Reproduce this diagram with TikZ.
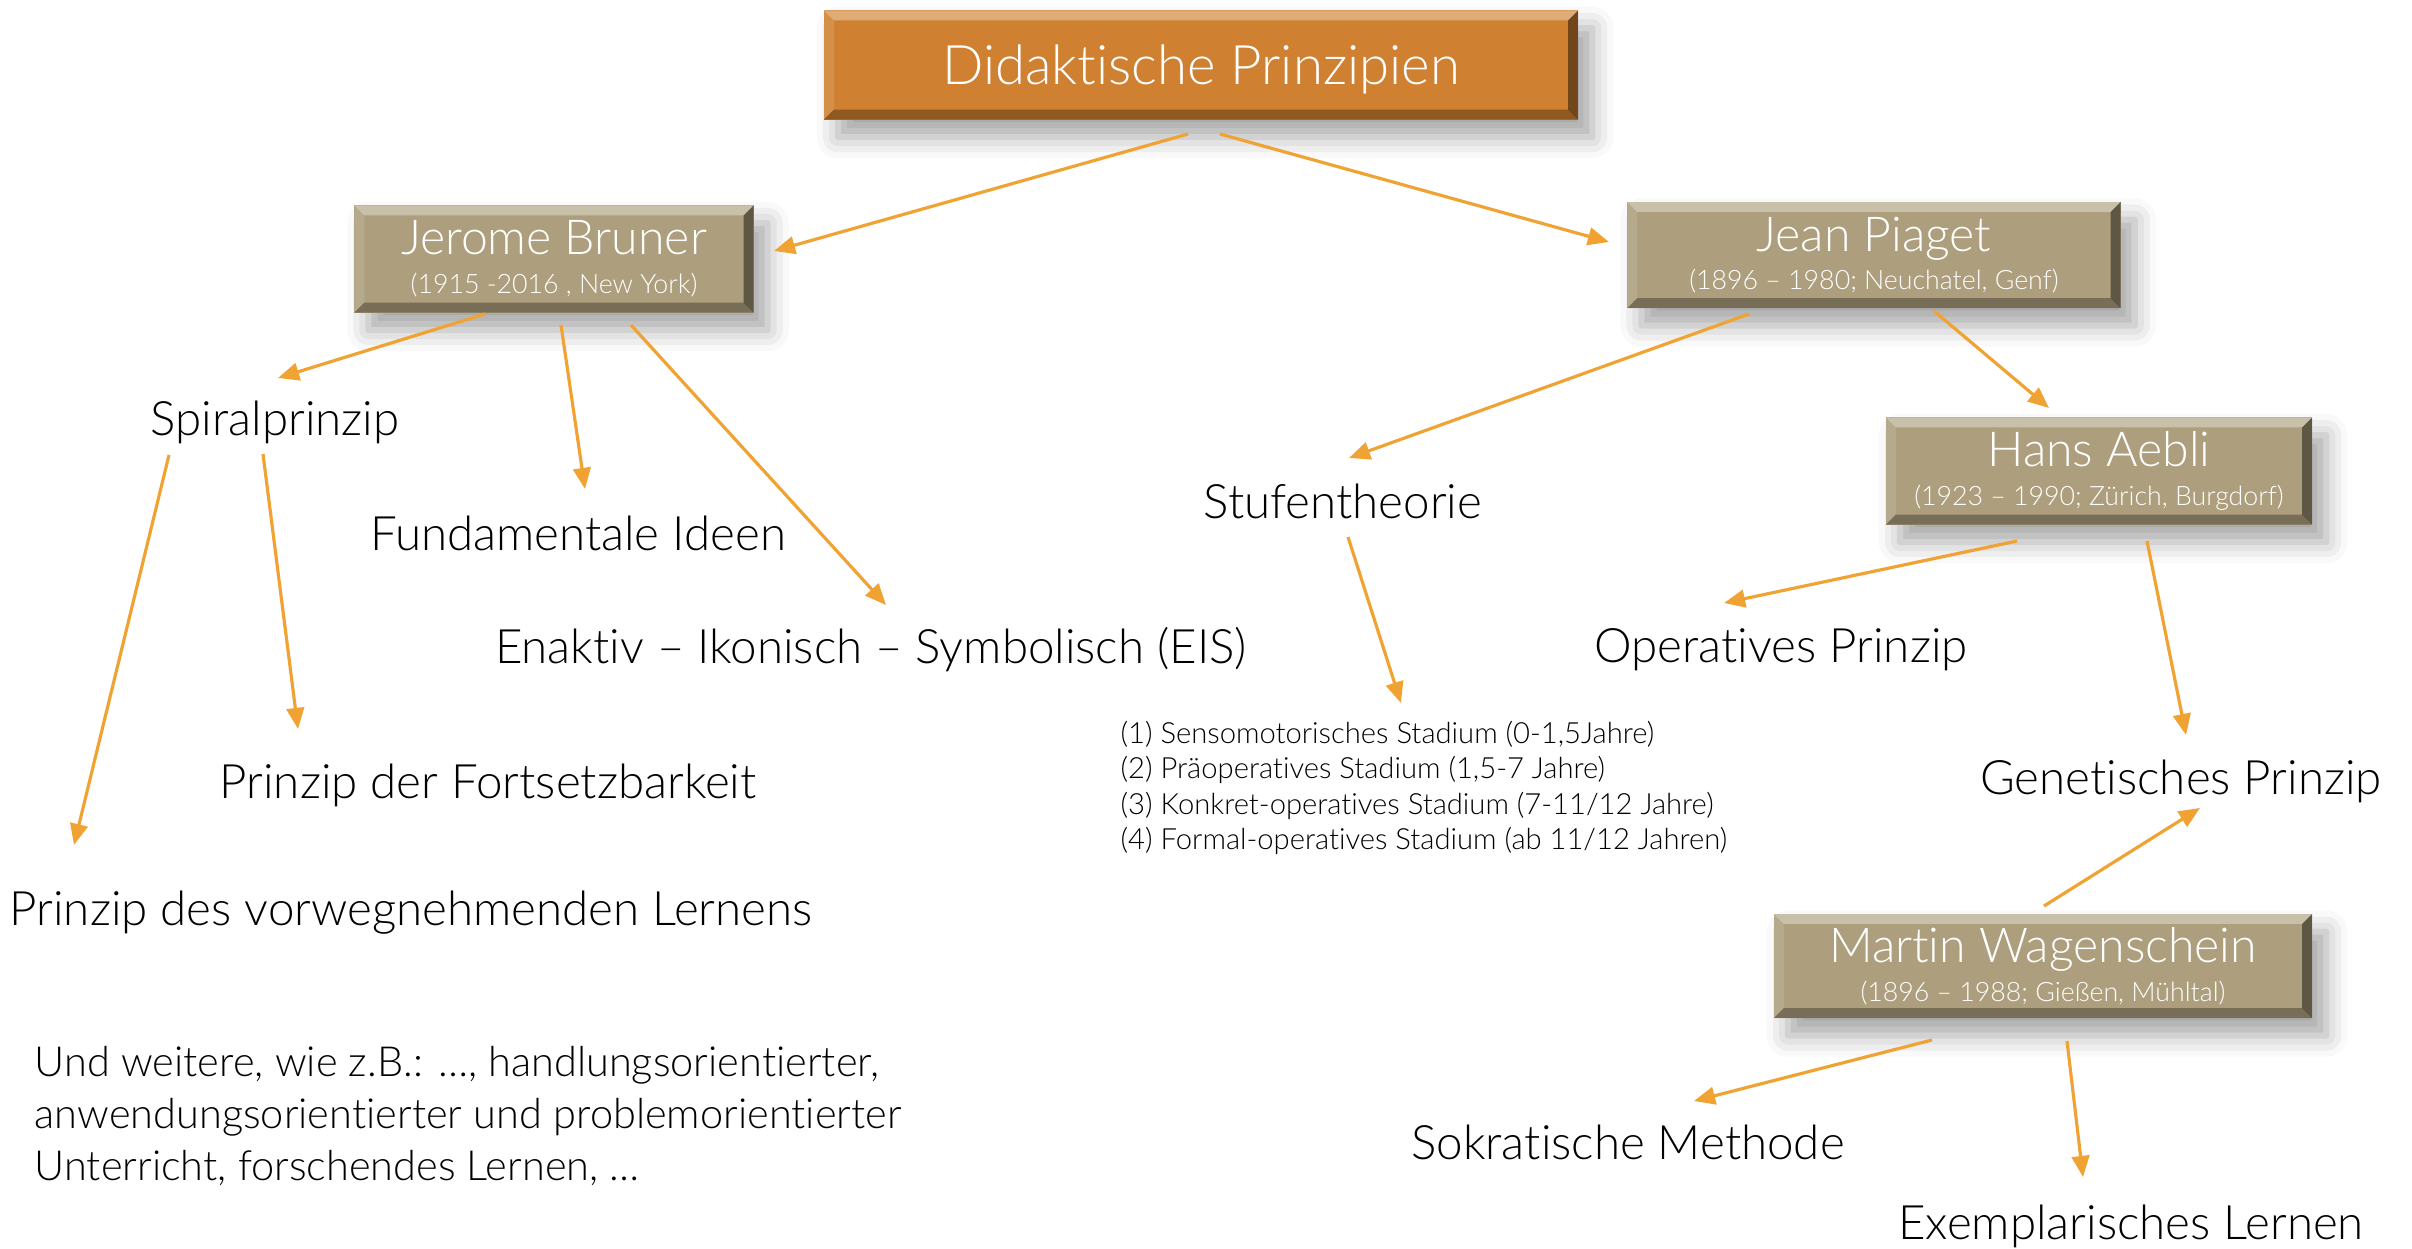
\documentclass[tikz,border=0pt]{standalone}
\usepackage{fontspec}
\setmainfont{Lato}[UprightFont={* Light},Ligatures=NoCommon]
\usetikzlibrary{arrows.meta,calc,shadows.blur}
\definecolor{prinzipOrange}{RGB}{207,128,48}
\definecolor{personBrown}{RGB}{173,159,125}
\definecolor{arrowOrange}{RGB}{240,162,50}

\tikzset{
  bevel/.style={path picture={
    \path (path picture bounding box.north west) coordinate (bvnw)
          (path picture bounding box.north east) coordinate (bvne)
          (path picture bounding box.south west) coordinate (bvsw)
          (path picture bounding box.south east) coordinate (bvse);
    \fill[white,opacity=0.35] (bvnw) -- (bvne) -- ([shift={(-10,10)}]bvne) -- ([shift={(10,10)}]bvnw) -- cycle;
    \fill[black,opacity=0.45] (bvse) -- (bvne) -- ([shift={(-10,10)}]bvne) -- ([shift={(-10,-10)}]bvse) -- cycle;
    \fill[black,opacity=0.3] (bvsw) -- (bvse) -- ([shift={(-10,-10)}]bvse) -- ([shift={(10,-10)}]bvsw) -- cycle;
    \fill[white,opacity=0.12] (bvnw) -- (bvsw) -- ([shift={(10,-10)}]bvsw) -- ([shift={(10,10)}]bvnw) -- cycle;
  }},
  boxshadow/.style={blur shadow={shadow xshift=4pt,shadow yshift=-5pt,shadow blur radius=6pt,shadow opacity=35}},
  topbox/.style={fill=prinzipOrange,text=white,bevel,boxshadow,inner sep=0pt,font=\fontsize{15.5}{18}\selectfont},
  personbox/.style={fill=personBrown,text=white,bevel,boxshadow,inner sep=0pt,align=center},
  label/.style={inner sep=0pt,font=\fontsize{13.5}{16}\selectfont},
  arr/.style={-{Triangle[length=6pt,width=5pt]},arrowOrange,line width=0.9pt}
}
\newcommand{\pname}[1]{{\fontsize{13.7}{16}\selectfont #1}}
\newcommand{\pdates}[1]{{\fontsize{7.6}{9}\selectfont #1}}

\begin{document}
\begin{tikzpicture}[x=0.01cm,y=-0.01cm]
    \useasboundingbox (0,0) rectangle (2412,1249);

    % Boxes
    \node[topbox,minimum width=7.54cm,minimum height=1.09cm] (didaktik) at (1201,65) {\raisebox{-1.3pt}[\height][\depth]{Didaktische Prinzipien}};

    \node[personbox,minimum width=3.99cm,minimum height=1.07cm] (bruner) at (554,259) {\pname{Jerome Bruner}\\[-1pt]\pdates{(1915 -2016 , New York)}};
    \node[personbox,minimum width=4.93cm,minimum height=1.06cm] (piaget) at (1874,255) {\pname{Jean Piaget}\\[-1pt]\pdates{(1896 -- 1980; Neuchatel, Genf)}};
    \node[personbox,minimum width=4.26cm,minimum height=1.07cm] (aebli) at (2099,471) {\pname{Hans Aebli}\\[-1pt]\pdates{(1923 -- 1990; Zürich, Burgdorf)}};
    \node[personbox,minimum width=5.38cm,minimum height=1.04cm] (wagen) at (2043,966) {\pname{Martin Wagenschein}\\[-1pt]\pdates{(1896 -- 1988; Gießen, Mühltal)}};

    % Prinzipien
    \node[label] (spiral) at (275,422) {Spiralprinzip};
    \node[label] (fund) at (578,533) {Fundamentale Ideen};
    \node[label] (eis) at (871,650) {Enaktiv -- Ikonisch -- Symbolisch (EIS)};
    \node[label] (forts) at (488,785) {Prinzip der Fortsetzbarkeit};
    \node[label] (vorweg) at (411,913) {Prinzip des vorwegnehmenden Lernens};
    \node[inner sep=0pt,anchor=west,align=left,font=\fontsize{11.8}{14.7}\selectfont] (weitere) at (34,1116) {Und weitere, wie z.B.: \dots, handlungsorientierter,\\anwendungsorientierter und problemorientierter\\Unterricht, forschendes Lernen, \dots};

    \node[label] (stufen) at (1343,501) {Stufentheorie};
    \node[inner sep=0pt,anchor=west,align=left,font=\fontsize{8.3}{10}\selectfont] (stadien) at (1120,788) {(1) Sensomotorisches Stadium (0-1,5Jahre)\\(2) Präoperatives Stadium (1,5-7 Jahre)\\(3) Konkret-operatives Stadium (7-11/12 Jahre)\\(4) Formal-operatives Stadium (ab 11/12 Jahren)};
    \node[label] (operativ) at (1781,650) {Operatives Prinzip};
    \node[label] (genet) at (2181,781) {Genetisches Prinzip};
    \node[label] (sokrat) at (1628,1142) {Sokratische Methode};
    \node[label] (exempl) at (2131,1226) {Exemplarisches Lernen};

    % Pfeile
    \draw[arr] ($(didaktik)+(-13,69)$) -- ($(bruner)+(220,-8)$);
    \draw[arr] ($(didaktik)+(19,69)$) -- ($(piaget)+(-265,-13)$);
    \draw[arr] ($(bruner)+(-69,55)$) -- ($(spiral)+(3,-44)$);
    \draw[arr] ($(bruner)+(7,66)$) -- ($(fund)+(7,-44)$);
    \draw[arr] ($(bruner)+(77,66)$) -- ($(eis)+(15,-45)$);
    \draw[arr] ($(spiral)+(-12,32)$) -- ($(forts)+(-190,-56)$);
    \draw[arr] ($(spiral)+(-106,33)$) -- ($(vorweg)+(-337,-68)$);
    \draw[arr] ($(piaget)+(-125,59)$) -- ($(stufen)+(6,-43)$);
    \draw[arr] ($(piaget)+(60,56)$) -- ($(aebli)+(-50,-63)$);
    \draw[arr] ($(stufen)+(5,36)$) -- ($(stadien)+(-23,-85)$);
    \draw[arr] ($(aebli)+(-82,70)$) -- ($(operativ)+(-57,-47)$);
    \draw[arr] ($(aebli)+(48,70)$) -- ($(genet)+(5,-46)$);
    \draw[arr] ($(wagen)+(1,-60)$) -- ($(genet)+(19,27)$);
    \draw[arr] ($(wagen)+(-111,74)$) -- ($(sokrat)+(66,-41)$);
    \draw[arr] ($(wagen)+(24,75)$) -- ($(exempl)+(-48,-49)$);
\end{tikzpicture}
\end{document}
